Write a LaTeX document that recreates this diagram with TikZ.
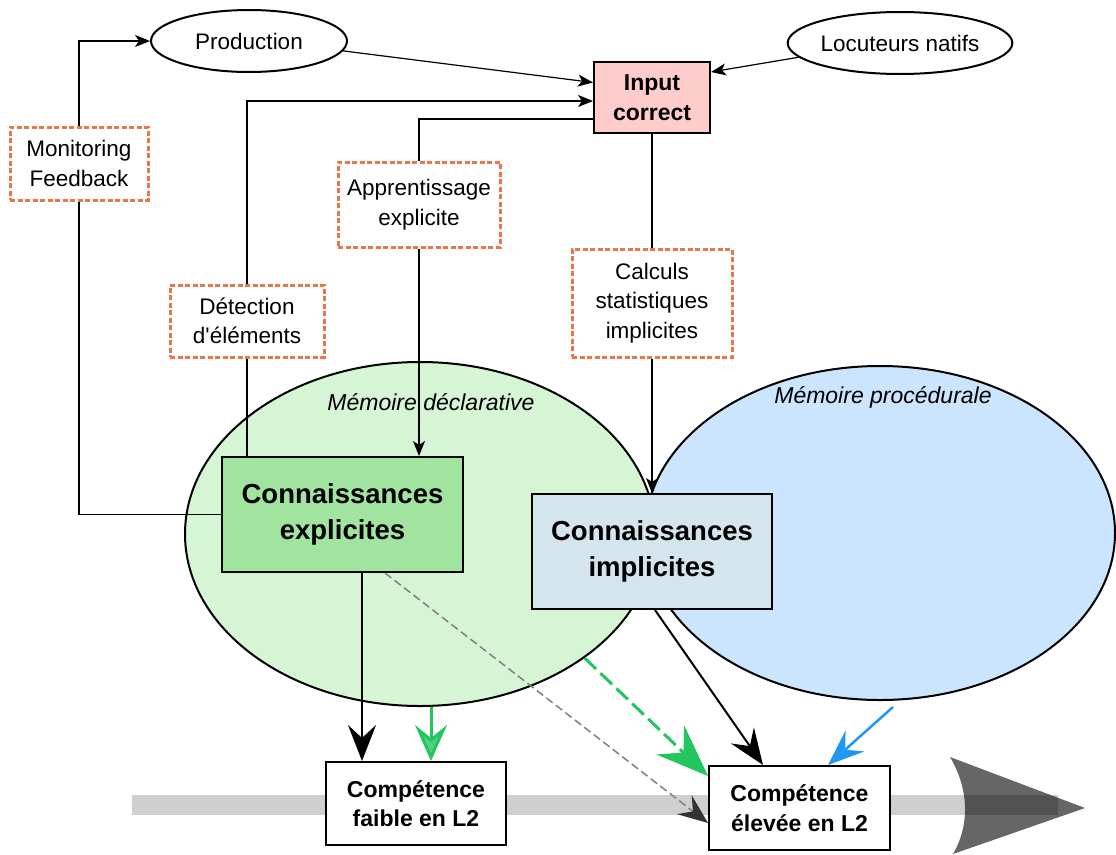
\documentclass[tikz,border=0pt]{standalone}
\usepackage{fontspec}
\setmainfont{Liberation Sans}
\usetikzlibrary{arrows.meta,shapes.geometric}
\definecolor{rosebox}{HTML}{FFCCCC}
\definecolor{orangeline}{HTML}{E8784A}
\definecolor{declfill}{HTML}{D5F5D5}
\definecolor{procfill}{HTML}{CCE5FF}
\definecolor{explfill}{HTML}{A0E4A0}
\definecolor{implfill}{HTML}{D5E5EE}
\definecolor{greenarr}{HTML}{22C55E}
\definecolor{bluearr}{HTML}{2196F3}
\definecolor{bargray}{HTML}{CFCFCF}
\tikzset{
  txt/.style={font=\fontsize{22.5}{29.5}\selectfont, align=center},
  oval/.style={ellipse, draw, line width=2pt, fill=white, txt, inner sep=0pt},
  box/.style={draw, line width=2pt, txt, inner sep=0pt},
  dashbox/.style={draw=orangeline, line width=3pt, dash pattern=on 5pt off 2.5pt, fill=white, txt, inner sep=0pt},
  bigtxt/.style={font=\fontsize{27.5}{36}\selectfont\bfseries, align=center},
  boldtxt/.style={font=\fontsize{23}{29.5}\selectfont\bfseries, align=center},
  memlabel/.style={font=\fontsize{23}{26}\selectfont\itshape},
  thin/.style={line width=1.2pt},
  thinarrow/.style={thin, -{Stealth[length=15pt, width=12pt, inset=4pt]}},
  fatarrow/.style={-{Stealth[length=36pt, width=28pt, inset=13pt]}},
}
\begin{document}
\begin{tikzpicture}[x=1pt, y=-1pt]
  \useasboundingbox (0,0) rectangle (1116,854);
  % les deux memoires
  \node[ellipse, draw, line width=2pt, fill=declfill, minimum width=470pt, minimum height=344pt] (memdecl) at (420,534) {};
  \node[ellipse, draw, line width=2pt, fill=procfill, minimum width=470pt, minimum height=334pt] (memproc) at (880,533) {};
  \node[memlabel] (decllabel) at (431,402) {Mémoire déclarative};
  \node[memlabel] (proclabel) at (883,397) {Mémoire procédurale};
  % barre de progression
  \fill[bargray] (132,795) rectangle (1058,815);
  \fill[black, opacity=0.6] (950,757) .. controls (969.5,790) and (969.5,826) .. (953,854) -- (1085,808) -- cycle;

  \node[oval, minimum width=196pt, minimum height=62pt] (prod) at (249,41) {Production};
  \node[oval, minimum width=208pt, minimum height=62pt] (natifs) at (900,43) {Locuteurs natifs};
  \node[box, fill=rosebox, minimum width=116pt, minimum height=71pt, boldtxt] (input) at (652,97.5) {Input\\correct};
  \node[dashbox, minimum width=138pt, minimum height=73pt] (monit) at (79,163.5) {Monitoring\\Feedback};
  \node[dashbox, minimum width=162pt, minimum height=85pt] (appr) at (419,204.5) {Apprentissage\\explicite};
  \node[dashbox, minimum width=154pt, minimum height=72pt] (detect) at (247,321) {Détection\\d\textquotesingle éléments};
  \node[dashbox, minimum width=160pt, minimum height=108pt] (calc) at (652,303) {Calculs\\statistiques\\implicites};
  \node[box, fill=explfill, minimum width=241pt, minimum height=115pt, bigtxt] (expl) at (342.5,514.5) {Connaissances\\explicites};
  \node[box, fill=implfill, minimum width=240pt, minimum height=115pt, bigtxt] (impl) at (652,551.5) {Connaissances\\implicites};
  \node[box, fill=white, minimum width=180pt, minimum height=83pt, boldtxt] (faible) at (416,803.5) {Compétence\\faible en L2};
  \node[box, fill=white, minimum width=181pt, minimum height=84pt, boldtxt] (eleve) at (799.5,808) {Compétence\\élevée en L2};
  \coordinate (procout) at (893,707);

  % liens du haut
  \draw[thinarrow] (monit.north) |- (prod.west);
  \draw[thin] (expl.west) -| (monit.south);
  \draw[thinarrow] (prod.-6) -- ([yshift=15pt]input.west);
  \draw[thinarrow] (natifs.188) -- ([yshift=-11pt]input.north east);
  \draw[thinarrow] (detect.north) |- ([yshift=-3.5pt]input.west);
  \draw[thin] (detect.south) -- (detect.south |- expl.north);
  \draw[thin] ([yshift=-21.5pt]input.west) -| (appr.north);
  \draw[thinarrow] (appr.south) -- (appr.south |- expl.north);
  \draw[thin] (input.south) -- (calc.north);
  \draw[thinarrow] (calc.south) -- (impl.north);

  % vers les competences
  \draw[line width=2pt, fatarrow] ([xshift=19.5pt]expl.south) -- ([xshift=-54pt]faible.north);
  \draw[line width=3pt, draw=greenarr, -{Stealth[length=36pt, width=32pt, inset=13pt, fill=greenarr!80]}] ([xshift=15pt]faible.north |- memdecl.south) -- ([xshift=15pt]faible.north);
  \draw[line width=3pt, draw=greenarr, dash pattern=on 16pt off 6pt, -{Stealth[length=52pt, width=40pt, inset=18pt, fill=greenarr]}] (memdecl.-37) -- ([yshift=-11pt]eleve.north west);
  \draw[line width=1.5pt, draw=gray, dash pattern=on 8pt off 4pt, -{Stealth[length=30pt, width=24pt, inset=11pt, color=black!80, fill=black!80]}] ([xshift=42.5pt]expl.south) -- ([yshift=-15pt]eleve.west);
  \draw[line width=2pt, fatarrow] ([xshift=3pt]impl.south) -- ([xshift=-36.5pt]eleve.north);
  \draw[line width=2.5pt, draw=bluearr, fatarrow] (procout) -- ([xshift=28.5pt]eleve.north);
\end{tikzpicture}
\end{document}
